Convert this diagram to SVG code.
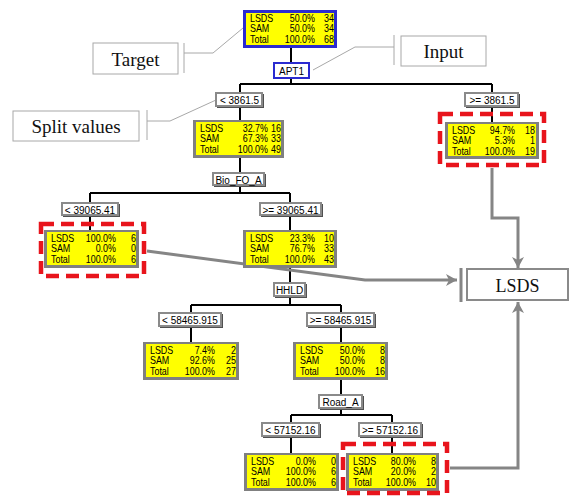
<svg xmlns="http://www.w3.org/2000/svg" width="572" height="498" viewBox="0 0 572 498">
<style>
.frame{fill:#808080}
.inner{fill:#ffff00}
.bframe{fill:#2b2bd0}
.nt{font-family:"Liberation Sans",Arial,sans-serif;font-size:10.5px;fill:#000}
.e{text-anchor:end}
.lb{fill:#fff;stroke:#8a8a8a;stroke-width:2}
.lbs{fill:#505050}
.blb{fill:#fff;stroke:#2b2bd0;stroke-width:2}
.lt{font-family:"Liberation Sans",Arial,sans-serif;font-size:10px;fill:#000;text-anchor:middle}
.edge{stroke:#000;stroke-width:2;fill:none}
.garrow{stroke:#858585;stroke-width:3;fill:none}
.red{fill:none;stroke:#e8141c;stroke-width:4.5;stroke-dasharray:13 7}
.ab{fill:#fff;stroke:#a8a8a8;stroke-width:1}
.al{fill:none;stroke:#a8a8a8;stroke-width:1}
.at{font-family:"Liberation Serif","Times New Roman",serif;font-size:19px;fill:#111;text-anchor:middle}
</style>
<defs>
<marker id="ga" markerWidth="12" markerHeight="12" refX="11" refY="6" orient="auto" markerUnits="userSpaceOnUse">
<path d="M0 0 L11 6 L0 12 L3 6 z" fill="#858585"/>
</marker>
</defs>

<g id="connectors">
<path class="edge" d="M291 48V63M291 78V84M240 84H492M240 84V93M492 84V93M240 107V120M492 106V122M240 158V173M240 186V193M90 193H290M90 193V203M290 193V203M90 216V230M290 216V230M290 268V283M290 297V305M191 305H341M191 305V313M341 305V313M191 327V342M341 327V342M341 380V395M341 409V415M291 415H392M291 415V423M392 415V423M291 437V453M392 437V453"/>
<path class="garrow" d="M492 168V218H518V268" marker-end="url(#ga)"/>
<path class="garrow" d="M147 251L365 280H457" marker-end="url(#ga)"/>
<path class="garrow" d="M450 468H518V302" marker-end="url(#ga)"/>
<path class="garrow" d="M461 268V302"/>
<path class="al" d="M184 53H213L243 28"/>
<path class="al" d="M147 121H170L216 100"/>
<path class="al" d="M313 70L355 47H394"/>
</g>

<g id="target-note">
<rect class="ab" x="93" y="43" width="85" height="31"/>
<path class="al" d="M184 43V73"/>
<text class="at" x="135.5" y="66">Target</text>
</g>
<g id="split-note">
<rect class="ab" x="13" y="111" width="126" height="30"/>
<path class="al" d="M147 110V140"/>
<text class="at" x="76" y="133">Split values</text>
</g>
<g id="input-note">
<rect class="ab" x="401" y="36" width="85" height="30"/>
<path class="al" d="M394 35V65"/>
<text class="at" x="443.5" y="58">Input</text>
</g>
<g id="lsds-out">
<rect x="467" y="269" width="101" height="31" fill="#fff" stroke="#8a8a8a" stroke-width="2"/>
<text class="at" x="517.5" y="292" style="font-size:18px">LSDS</text>
</g>

<g id="root">
<rect class="bframe" x="243" y="10" width="94" height="38"/>
<rect class="inner" x="246" y="13" width="88" height="32"/>
<text class="nt" transform="translate(243,10) scale(0.85,1)"><tspan x="8.2" y="12">LSDS</tspan><tspan class="e" x="84.7" y="12">50.0%</tspan><tspan class="e" x="107.1" y="12">34</tspan><tspan x="8.2" y="22.5">SAM</tspan><tspan class="e" x="84.7" y="22.5">50.0%</tspan><tspan class="e" x="107.1" y="22.5">34</tspan><tspan x="8.2" y="33">Total</tspan><tspan class="e" x="84.7" y="33">100.0%</tspan><tspan class="e" x="107.1" y="33">68</tspan></text>
</g>
<g id="split-apt1">
<rect class="blb" x="274" y="63" width="35" height="15"/>
<text class="lt" x="291.5" y="75">APT1</text>
</g>
<g id="lbl-lt-3861">
<rect class="lbs" x="217" y="94" width="47" height="14"/>
<rect class="lb" x="216" y="93" width="46" height="13"/>
<text class="lt" x="239.5" y="104">&lt; 3861.5</text>
</g>
<g id="lbl-ge-3861">
<rect class="lbs" x="466" y="94" width="54" height="14"/>
<rect class="lb" x="465" y="93" width="53" height="13"/>
<text class="lt" x="492" y="104">&gt;= 3861.5</text>
</g>

<g id="node2">
<rect class="frame" x="193" y="120" width="91" height="38"/>
<rect class="inner" x="196" y="122" width="85" height="33"/>
<text class="nt" transform="translate(193,120) scale(0.85,1)"><tspan x="8.2" y="12">LSDS</tspan><tspan class="e" x="88.2" y="12">32.7%</tspan><tspan class="e" x="103.5" y="12">16</tspan><tspan x="8.2" y="22.5">SAM</tspan><tspan class="e" x="88.2" y="22.5">67.3%</tspan><tspan class="e" x="103.5" y="22.5">33</tspan><tspan x="8.2" y="33">Total</tspan><tspan class="e" x="88.2" y="33">100.0%</tspan><tspan class="e" x="103.5" y="33">49</tspan></text>
</g>
<g id="node9">
<rect class="frame" x="445" y="122" width="94" height="37"/>
<rect class="inner" x="448" y="124" width="88" height="32"/>
<text class="nt" transform="translate(445,122) scale(0.85,1)"><tspan x="8.2" y="12">LSDS</tspan><tspan class="e" x="82.4" y="12">94.7%</tspan><tspan class="e" x="105.9" y="12">18</tspan><tspan x="8.2" y="22.5">SAM</tspan><tspan class="e" x="82.4" y="22.5">5.3%</tspan><tspan class="e" x="105.9" y="22.5">1</tspan><tspan x="8.2" y="33">Total</tspan><tspan class="e" x="82.4" y="33">100.0%</tspan><tspan class="e" x="105.9" y="33">19</tspan></text>
</g>
<rect id="hl-node9" class="red" x="440" y="114" width="104" height="51"/>

<g id="split-bio">
<rect class="lbs" x="214" y="174" width="52" height="13"/>
<rect class="lb" x="213" y="173" width="51" height="12"/>
<text class="lt" x="238.5" y="183.5">Bio_FO_A</text>
</g>
<g id="lbl-lt-39065">
<rect class="lbs" x="63" y="204" width="57" height="13"/>
<rect class="lb" x="62" y="203" width="56" height="12"/>
<text class="lt" x="90" y="213.5">&lt; 39065.41</text>
</g>
<g id="lbl-ge-39065">
<rect class="lbs" x="261" y="204" width="62" height="13"/>
<rect class="lb" x="260" y="203" width="61" height="12"/>
<text class="lt" x="290.5" y="213.5">&gt;= 39065.41</text>
</g>

<g id="node3">
<rect class="frame" x="44" y="230" width="95" height="38"/>
<rect class="inner" x="47" y="232" width="89" height="33"/>
<text class="nt" transform="translate(44,230) scale(0.85,1)"><tspan x="8.2" y="12">LSDS</tspan><tspan class="e" x="84.7" y="12">100.0%</tspan><tspan class="e" x="108.2" y="12">6</tspan><tspan x="8.2" y="22.5">SAM</tspan><tspan class="e" x="84.7" y="22.5">0.0%</tspan><tspan class="e" x="108.2" y="22.5">0</tspan><tspan x="8.2" y="33">Total</tspan><tspan class="e" x="84.7" y="33">100.0%</tspan><tspan class="e" x="108.2" y="33">6</tspan></text>
</g>
<rect id="hl-node3" class="red" x="41" y="224" width="103" height="52"/>

<g id="node4">
<rect class="frame" x="243" y="230" width="94" height="38"/>
<rect class="inner" x="246" y="232" width="88" height="33"/>
<text class="nt" transform="translate(243,230) scale(0.85,1)"><tspan x="8.2" y="12">LSDS</tspan><tspan class="e" x="84.7" y="12">23.3%</tspan><tspan class="e" x="107.1" y="12">10</tspan><tspan x="8.2" y="22.5">SAM</tspan><tspan class="e" x="84.7" y="22.5">76.7%</tspan><tspan class="e" x="107.1" y="22.5">33</tspan><tspan x="8.2" y="33">Total</tspan><tspan class="e" x="84.7" y="33">100.0%</tspan><tspan class="e" x="107.1" y="33">43</tspan></text>
</g>

<g id="split-hhld">
<rect class="lbs" x="275" y="284" width="32" height="14"/>
<rect class="lb" x="274" y="283" width="31" height="13"/>
<text class="lt" x="289.5" y="293.5">HHLD</text>
</g>
<g id="lbl-lt-58465">
<rect class="lbs" x="160" y="314" width="63" height="14"/>
<rect class="lb" x="159" y="313" width="62" height="13"/>
<text class="lt" x="190" y="324">&lt; 58465.915</text>
</g>
<g id="lbl-ge-58465">
<rect class="lbs" x="308" y="314" width="68" height="14"/>
<rect class="lb" x="307" y="313" width="67" height="13"/>
<text class="lt" x="340.5" y="324">&gt;= 58465.915</text>
</g>

<g id="node5">
<rect class="frame" x="143" y="342" width="96" height="38"/>
<rect class="inner" x="146" y="344" width="90" height="33"/>
<text class="nt" transform="translate(143,342) scale(0.85,1)"><tspan x="8.2" y="12">LSDS</tspan><tspan class="e" x="84.7" y="12">7.4%</tspan><tspan class="e" x="109.4" y="12">2</tspan><tspan x="8.2" y="22.5">SAM</tspan><tspan class="e" x="84.7" y="22.5">92.6%</tspan><tspan class="e" x="109.4" y="22.5">25</tspan><tspan x="8.2" y="33">Total</tspan><tspan class="e" x="84.7" y="33">100.0%</tspan><tspan class="e" x="109.4" y="33">27</tspan></text>
</g>
<g id="node6">
<rect class="frame" x="293" y="342" width="95" height="38"/>
<rect class="inner" x="296" y="344" width="89" height="33"/>
<text class="nt" transform="translate(293,342) scale(0.85,1)"><tspan x="8.2" y="12">LSDS</tspan><tspan class="e" x="84.7" y="12">50.0%</tspan><tspan class="e" x="108.2" y="12">8</tspan><tspan x="8.2" y="22.5">SAM</tspan><tspan class="e" x="84.7" y="22.5">50.0%</tspan><tspan class="e" x="108.2" y="22.5">8</tspan><tspan x="8.2" y="33">Total</tspan><tspan class="e" x="84.7" y="33">100.0%</tspan><tspan class="e" x="108.2" y="33">16</tspan></text>
</g>

<g id="split-road">
<rect class="lbs" x="320" y="396" width="44" height="14"/>
<rect class="lb" x="319" y="395" width="43" height="13"/>
<text class="lt" x="340.5" y="405.5">Road_A</text>
</g>
<g id="lbl-lt-57152">
<rect class="lbs" x="263" y="424" width="58" height="14"/>
<rect class="lb" x="262" y="423" width="57" height="13"/>
<text class="lt" x="290.5" y="434">&lt; 57152.16</text>
</g>
<g id="lbl-ge-57152">
<rect class="lbs" x="360" y="424" width="63" height="14"/>
<rect class="lb" x="359" y="423" width="62" height="13"/>
<text class="lt" x="390" y="434">&gt;= 57152.16</text>
</g>

<g id="node7">
<rect class="frame" x="244" y="453" width="95" height="38"/>
<rect class="inner" x="247" y="455" width="89" height="33"/>
<text class="nt" transform="translate(244,453) scale(0.85,1)"><tspan x="8.2" y="12">LSDS</tspan><tspan class="e" x="84.7" y="12">0.0%</tspan><tspan class="e" x="108.2" y="12">0</tspan><tspan x="8.2" y="22.5">SAM</tspan><tspan class="e" x="84.7" y="22.5">100.0%</tspan><tspan class="e" x="108.2" y="22.5">6</tspan><tspan x="8.2" y="33">Total</tspan><tspan class="e" x="84.7" y="33">100.0%</tspan><tspan class="e" x="108.2" y="33">6</tspan></text>
</g>
<g id="node8">
<rect class="frame" x="346" y="453" width="93" height="38"/>
<rect class="inner" x="349" y="455" width="87" height="33"/>
<text class="nt" transform="translate(346,453) scale(0.85,1)"><tspan x="8.2" y="12">LSDS</tspan><tspan class="e" x="82.4" y="12">80.0%</tspan><tspan class="e" x="105.9" y="12">8</tspan><tspan x="8.2" y="22.5">SAM</tspan><tspan class="e" x="82.4" y="22.5">20.0%</tspan><tspan class="e" x="105.9" y="22.5">2</tspan><tspan x="8.2" y="33">Total</tspan><tspan class="e" x="82.4" y="33">100.0%</tspan><tspan class="e" x="105.9" y="33">10</tspan></text>
</g>
<rect id="hl-node8" class="red" x="343" y="444" width="104" height="49"/>
</svg>
